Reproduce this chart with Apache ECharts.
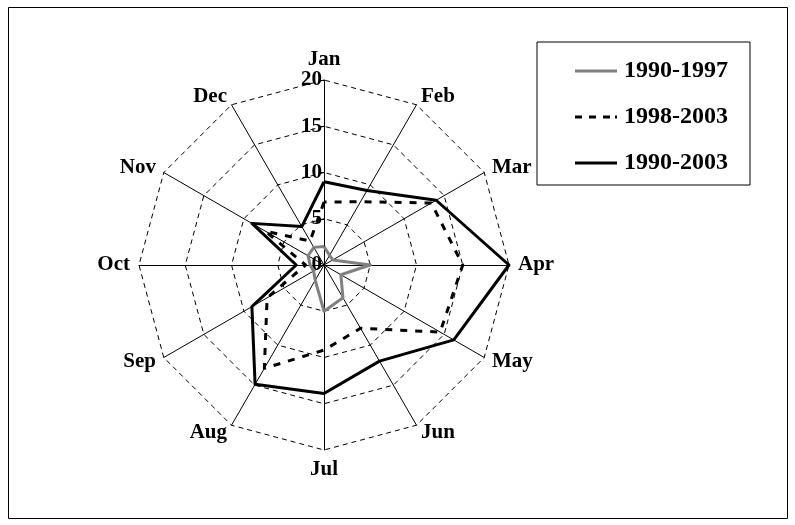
<!DOCTYPE html>
<html>
<head>
<meta charset="utf-8">
<title>radar</title>
<script src="https://cdn.jsdelivr.net/npm/echarts@6/dist/echarts.min.js"></script>
<style>
    html, body { margin: 0; padding: 0; background: #ffffff; }
    #main { width: 795px; height: 525px; }
</style>
</head>
<body>
<div id="main"></div>
<script>
// months around the radar, clockwise from the top
var months = ['Jan', 'Feb', 'Mar', 'Apr', 'May', 'Jun', 'Jul', 'Aug', 'Sep', 'Oct', 'Nov', 'Dec'];
var seriesNames = ['1990-1997', '1998-2003', '1990-2003'];
var values9097 = [2.0, 1.2, 1.1, 5.0, 2.1, 4.1, 5.0, 1.9, 1.3, 1.5, 2.0, 2.2];
var values9803 = [6.8, 7.9, 13.4, 15.0, 14.5, 7.9, 9.2, 12.9, 7.1, 2.0, 7.3, 3.0];
var values9003 = [9.0, 9.3, 14.0, 20.0, 16.2, 12.0, 13.9, 14.9, 9.0, 3.0, 9.0, 4.8];
var axisMax = 20;
var axisSplit = 4;

var fontName = "'Liberation Serif', 'Times New Roman', serif";

// echarts lays radar axes out counter-clockwise, so walk the months
// Jan, Dec, Nov ... Feb to get them clockwise on screen
function order(arr) {
    var out = [ arr[0] ];
    for (var i = arr.length - 1; i > 0; i--) {
        out.push(arr[i]);
    }
    return out;
}

function getIndicator() {
    var names = order(months);
    var list = new Array();
    for (var i = 0; i < names.length; i++) {
        var ind = {
            name : names[i],
            min : 0,
            max : axisMax
        };
        // only the Jan axis carries the value labels
        if (i == 0) {
            ind.axisLabel = { show : true };
            ind.axisTick = { show : true };
        }
        list.push(ind);
    }
    return list;
}

function makeSeries(name, data, color, dash) {
    return {
        type : 'radar',
        name : name,
        symbol : 'none',
        silent : true,
        z : 3,
        data : [ {
            name : name,
            value : order(data)
        } ],
        itemStyle : { color : color },
        lineStyle : {
            color : color,
            width : 3,
            type : dash
        }
    };
}

function paint() {
    var myChart = echarts.init(document.getElementById('main'));
    var option = {
        animation : false,
        graphic : [ {
            type : 'rect',
            shape : { x : 8.5, y : 7.5, width : 779, height : 511 },
            style : { fill : 'none', stroke : '#000000', lineWidth : 1 },
            silent : true
        } ],
        legend : {
            orient : 'vertical',
            left : 537,
            top : 42,
            padding : [ 17, 22, 10, 38 ],
            itemGap : 22,
            itemWidth : 42,
            itemHeight : 3,
            borderColor : '#000000',
            borderWidth : 1,
            selectedMode : false,
            textStyle : {
                color : '#000000',
                fontFamily : fontName,
                fontWeight : 'bold',
                fontSize : 24,
                padding : [ 0, 0, 0, 2 ]
            },
            data : [ {
                name : seriesNames[0],
                icon : 'path://M0,0h42v3h-42z'
            }, {
                name : seriesNames[1],
                icon : 'path://M0,0h7v3h-7zM14,0h7v3h-7zM28,0h7v3h-7zM40,0h2v3h-2z'
            }, {
                name : seriesNames[2],
                icon : 'path://M0,0h42v3h-42z'
            } ]
        },
        radar : {
            center : [ 324, 265 ],
            radius : 185,
            startAngle : 90,
            shape : 'polygon',
            splitNumber : axisSplit,
            indicator : getIndicator(),
            axisName : {
                color : '#000000',
                fontFamily : fontName,
                fontWeight : 'bold',
                fontSize : 21
            },
            nameGap : 9,
            axisLine : {
                show : true,
                lineStyle : { color : '#000000', width : 1 }
            },
            axisTick : {
                show : false,
                length : 5,
                lineStyle : { color : '#000000' }
            },
            axisLabel : {
                show : false,
                color : '#000000',
                fontFamily : fontName,
                fontWeight : 'bold',
                fontSize : 21,
                margin : 2
            },
            splitLine : {
                lineStyle : {
                    color : '#000000',
                    width : 1,
                    type : [ 5, 4 ]
                }
            },
            splitArea : { show : false }
        },
        series : [
            makeSeries(seriesNames[0], values9097, '#808080', 'solid'),
            makeSeries(seriesNames[1], values9803, '#000000', [ 7, 8 ]),
            makeSeries(seriesNames[2], values9003, '#000000', 'solid')
        ]
    };
    myChart.setOption(option);
}
paint();
</script>
</body>
</html>
